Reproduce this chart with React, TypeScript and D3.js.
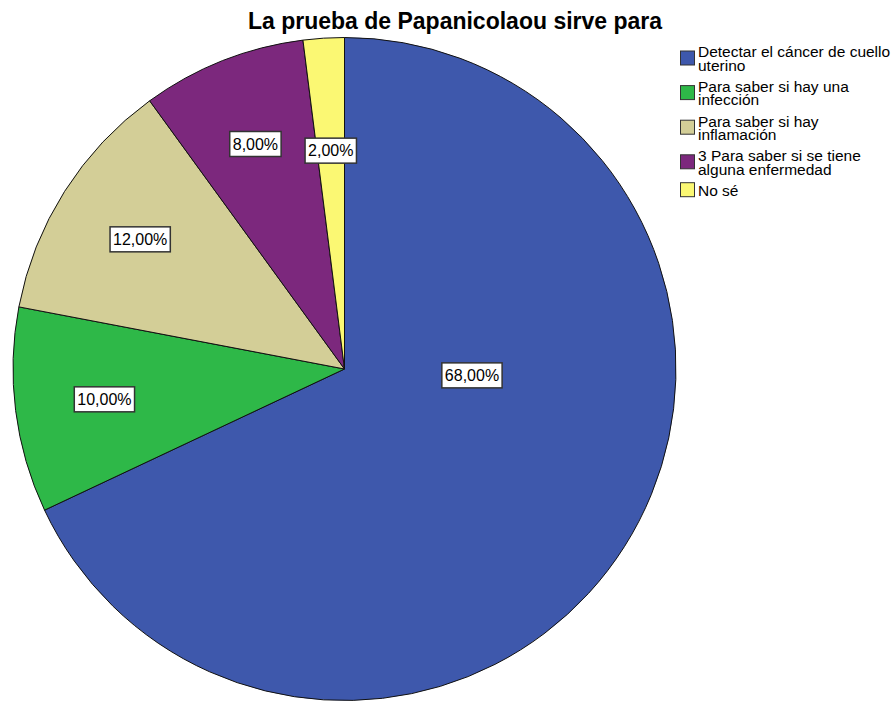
import React, { useEffect, useRef } from "react";
import * as d3 from "d3";

// chart data
const title = "La prueba de Papanicolaou sirve para";
const categories = [
  "Detectar el cáncer de cuello uterino",
  "Para saber si hay una infección",
  "Para saber si hay inflamación",
  "3 Para saber si se tiene alguna enfermedad",
  "No sé",
];
const legendLines = [
  ["Detectar el cáncer de cuello", "uterino"],
  ["Para saber si hay una", "infección"],
  ["Para saber si hay", "inflamación"],
  ["3 Para saber si se tiene", "alguna enfermedad"],
  ["No sé"],
];
const percents = [68, 10, 12, 8, 2];
const colors = ["#3E58AC", "#2EB848", "#D3CE97", "#7C287D", "#FBF873"];

const App = () => {
  const svgRef = useRef<SVGSVGElement>(null);

  useEffect(() => {
    const svg = d3.select(svgRef.current);
    svg.selectAll("*").remove();

    const font = "Arial, 'Liberation Sans', sans-serif";
    const cx = 344.5;
    const cy = 369;
    const r = 331.5;

    // Title
    svg
      .append("text")
      .attr("x", 455)
      .attr("y", 28.5)
      .attr("text-anchor", "middle")
      .style("font-family", font)
      .style("font-weight", "bold")
      .style("font-size", "23px")
      .attr("fill", "#000")
      .text(title);

    const data = categories.map((c, i) => ({ name: c, value: percents[i], color: colors[i] }));

    const pie = d3
      .pie<any>()
      .value((d) => d.value)
      .sort(null);
    const arcs = pie(data);

    const arc = d3.arc<any>().innerRadius(0).outerRadius(r);

    const g = svg.append("g").attr("transform", `translate(${cx},${cy})`);

    g.selectAll("path.slice")
      .data(arcs)
      .enter()
      .append("path")
      .attr("class", "slice")
      .attr("d", arc)
      .attr("fill", (d) => d.data.color)
      .attr("stroke", "#111")
      .attr("stroke-width", 1);

    // label placement: big slices near center on their first half, narrow slices pushed inward
    const labelPos = (d: any) => {
      const span = d.endAngle - d.startAngle;
      let a = (d.startAngle + d.endAngle) / 2;
      let dist = r * 0.73;
      if (span > Math.PI) {
        a = d.startAngle + Math.PI / 2 + 0.05;
        dist = r * 0.385;
      } else if (d.data.value < 5) {
        dist = r * 0.66;
      }
      return [Math.sin(a) * dist, -Math.cos(a) * dist];
    };

    const labels = g
      .selectAll("g.label")
      .data(arcs)
      .enter()
      .append("g")
      .attr("class", "label")
      .attr("transform", (d) => {
        const [x, y] = labelPos(d);
        return `translate(${x},${y})`;
      });

    labels.each(function (d: any) {
      const lg = d3.select(this);
      const rect = lg.append("rect");
      const txt = lg
        .append("text")
        .attr("text-anchor", "middle")
        .attr("y", 5.8)
        .style("font-family", font)
        .style("font-size", "16px")
        .attr("fill", "#000")
        .text(d.data.value.toFixed(2).replace(".", ",") + "%");
      const w = (txt.node() as SVGTextElement).getComputedTextLength() + 6;
      const h = 25;
      rect
        .attr("x", -w / 2)
        .attr("y", -h / 2)
        .attr("width", w)
        .attr("height", h)
        .attr("fill", "#fff")
        .attr("stroke", "#333")
        .attr("stroke-width", 1.5);
    });

    // Legend
    const legendX = 680;
    const firstBaseline = 57.3;
    const step = 34.6;
    const lineH = 13.4;
    const box = 15;

    const legend = svg
      .selectAll("g.legend")
      .data(legendLines)
      .enter()
      .append("g")
      .attr("class", "legend");

    legend.each(function (lines, i) {
      const lg = d3.select(this);
      const base = firstBaseline + i * step;
      const top = base - 11;
      const bottom = base + (lines.length - 1) * lineH;
      const mid = (top + bottom) / 2;
      lg.append("rect")
        .attr("x", legendX + 0.5)
        .attr("y", mid - box / 2)
        .attr("width", box - 1)
        .attr("height", box - 1)
        .attr("fill", colors[i])
        .attr("stroke", "#333")
        .attr("stroke-width", 1);
      lines.forEach((t, j) => {
        lg.append("text")
          .attr("x", legendX + 18)
          .attr("y", base + j * lineH)
          .style("font-family", font)
          .style("font-size", "15.5px")
          .attr("fill", "#000")
          .text(t);
      });
    });
  }, []);

  return (
    <svg
      ref={svgRef}
      width={894}
      height={702}
      style={{ position: "absolute", left: 0, top: 0, background: "#fff" }}
    />
  );
};

export default App;
